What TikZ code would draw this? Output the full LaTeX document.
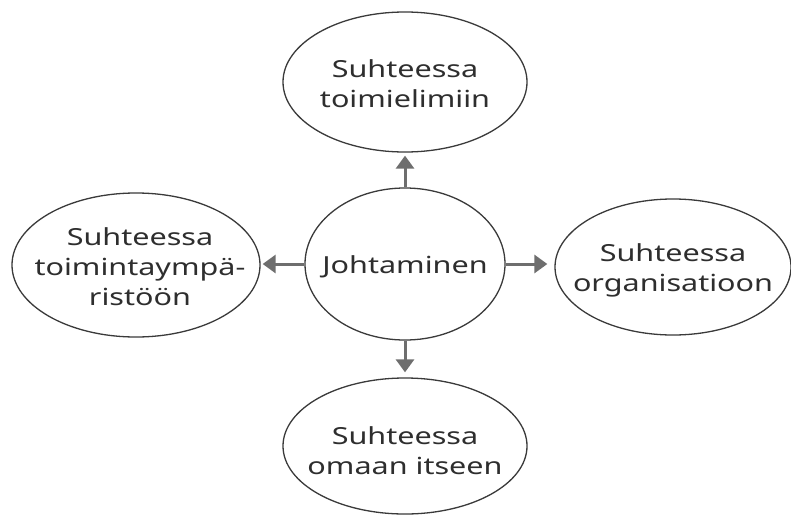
\documentclass[tikz,border=0pt]{standalone}
\usepackage{fontspec}
\setmainfont{Noto Sans}
\usetikzlibrary{shapes.geometric,arrows.meta}
\definecolor{txtc}{HTML}{2E2E2E}
\definecolor{edgec}{HTML}{3A3A3A}
\definecolor{arrc}{HTML}{6E6E6E}
\newcommand\lbl[1]{\scalebox{1.3}[1]{\fontsize{23.5}{30}\selectfont\begin{tabular}{@{}c@{}}#1\end{tabular}}}
\tikzset{
  oval/.style={draw=edgec, line width=1.3pt, ellipse, inner sep=0pt, fill=white},
  lbltext/.style={text=txtc, inner sep=0pt},
  conn/.style={draw=arrc, line width=3pt, -{Triangle[width=18pt,length=13pt]}}
}
\begin{document}
\begin{tikzpicture}[x=1pt,y=-1pt]
\useasboundingbox (0,0) rectangle (791,514);
\node[oval, minimum width=244pt, minimum height=140pt] (top) at (405,82) {};
\node[oval, minimum width=200pt, minimum height=152pt] (mid) at (405,264) {};
\node[oval, minimum width=248pt, minimum height=144pt] (left) at (136,265) {};
\node[oval, minimum width=236pt, minimum height=136pt] (right) at (673,267) {};
\node[oval, minimum width=244pt, minimum height=136pt] (bot) at (405,446) {};
\node[lbltext] (topt) at (405,86) {\lbl{Suhteessa\\toimielimiin}};
\node[lbltext] (midt) at (405,267) {\lbl{Johtaminen}};
\node[lbltext] (leftt) at (140,269) {\lbl{Suhteessa\\toimintaympä-\\ristöön}};
\node[lbltext] (rightt) at (673,270) {\lbl{Suhteessa\\organisatioon}};
\node[lbltext] (bott) at (405,453) {\lbl{Suhteessa\\omaan itseen}};
\draw[conn, shorten >=3pt] (mid.north) -- (top.south);
\draw[conn, shorten >=5pt] (mid.south) -- (bot.north);
\draw[conn, shorten >=2pt] (mid.west) -- (mid.west -| left.east);
\draw[conn, shorten >=7pt] (mid.east) -- (mid.east -| right.west);
\end{tikzpicture}
\end{document}
